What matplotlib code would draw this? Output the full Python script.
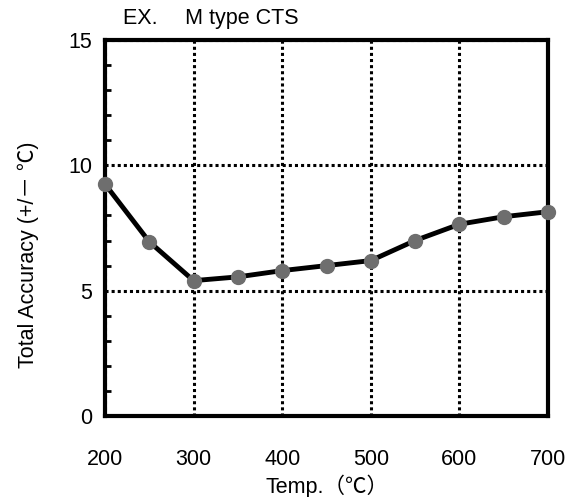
import numpy as np
import matplotlib
matplotlib.use('Agg')
import matplotlib.pyplot as plt

plt.rcParams['font.family'] = ['Liberation Sans', 'Noto Sans CJK JP', 'DejaVu Sans']

temp = [200, 250, 300, 350, 400, 450, 500, 550, 600, 650, 700]
accuracy = [9.25, 6.95, 5.4, 5.55, 5.8, 6.0, 6.2, 7.0, 7.65, 7.95, 8.15]
xticks = [200, 300, 400, 500, 600, 700]
yticks = [0, 5, 10, 15]

fig = plt.figure(figsize=(5.78, 4.97), dpi=100)
ax = fig.add_axes([0.1817, 0.163, 0.7664, 0.7565])

ax.plot(temp, accuracy, '-', color='black', lw=3.5, zorder=5, clip_on=False)
ax.plot(temp, accuracy, 'o', color='#6e6e6e', ms=10, mec='#6e6e6e',
        zorder=6, clip_on=False)

ax.set_xlim(200, 700)
ax.set_ylim(0, 15)
ax.set_xticks(xticks)
ax.set_yticks(yticks)
ax.set_yticks(np.arange(0, 16, 1), minor=True)
ax.tick_params(axis='x', length=0, pad=24, labelsize=15.5)
ax.tick_params(axis='y', which='major', length=0, pad=9, labelsize=15.5)
ax.tick_params(axis='y', which='minor', direction='in', length=4, width=2)

ax.grid(True, color='black', linestyle=(0, (1, 1)), lw=2.2)
for s in ax.spines.values():
    s.set_linewidth(3)
    s.set_zorder(4)

ax.set_xlabel('Temp.（℃）', fontsize=15.5, labelpad=3)
ax.set_ylabel('Total Accuracy (+/－ ℃)', fontsize=15.5)
ax.yaxis.set_label_coords(-0.15, 0.43)
fig.text(0.213, 0.963, 'EX.\u3000 M type CTS', fontsize=15.5, va='center')

plt.savefig('out.png', dpi=100)
